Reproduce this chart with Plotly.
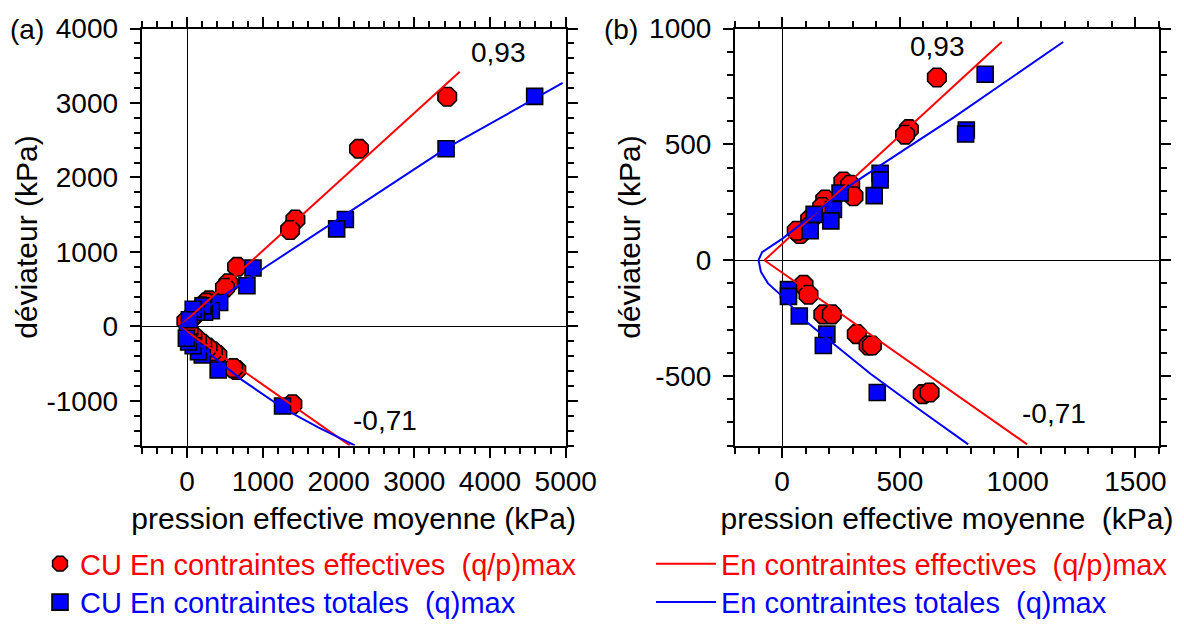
import plotly.graph_objects as go

# ---------------- data: panel (a) ----------------
a_eff_p = [3435, 2270, 1430, 1360, 660, 545, 500, 290, 250, 200, 150, 90, 40, -10,
           1390, 650, 610, 400, 340, 270, 200, 130, 70, 20]
a_eff_q = [3085, 2385, 1435, 1295, 800, 580, 520, 350, 320, 270, 210, 150, 100, 70,
           -1045, -585, -560, -385, -335, -285, -235, -175, -120, -60]
a_tot_p = [4590, 3420, 2090, 1975, 870, 790, 430, 320, 230, 210, 125, 80, 30,
           1260, 410, 200, 150, 80, 20, -10]
a_tot_q = [3090, 2385, 1435, 1310, 785, 545, 320, 210, 190, 275, 190, 230, 90,
           -1070, -585, -385, -340, -260, -210, -160]

a_line_eff_up_p = [-100, 3600]
a_line_eff_up_q = [0, 3420]
a_line_eff_dn_p = [-100, 2150]
a_line_eff_dn_q = [0, -1600]
a_line_tot_up_p = [-100, 1050, 3420, 4960]
a_line_tot_up_q = [0, 808, 2390, 3270]
a_line_tot_dn_p = [-100, 0, 300, 718, 1291, 1731, 2215]
a_line_tot_dn_q = [0, -95, -370, -715, -1113, -1355, -1599]

# ---------------- data: panel (b) ----------------
b_eff_p = [657, 538, 522, 260, 289, 303, 183, 170, 119, 112, 76, 62,
           91, 112, 175, 211, 317, 367, 381, 597, 626]
b_eff_q = [789, 566, 542, 340, 326, 276, 262, 230, 177, 141, 113, 127,
           -106, -149, -234, -234, -319, -368, -368, -578, -571]
b_tot_p = [862, 782, 779, 416, 416, 391, 246, 218, 207, 136, 119,
           27, 27, 73, 190, 175, 404]
b_tot_q = [803, 562, 545, 375, 347, 279, 290, 219, 170, 198, 127,
           -127, -156, -241, -319, -368, -571]

b_line_eff_up_p = [-75, 932]
b_line_eff_up_q = [0, 942]
b_line_eff_dn_p = [-75, 1040]
b_line_eff_dn_q = [0, -795]
b_line_tot_up_p = [-100, -85, 0, 133, 303, 516, 729, 1193]
b_line_tot_up_q = [0, 35, 92, 199, 333, 475, 617, 942]
b_line_tot_dn_p = [-100, -90, -60, 0, 90, 200, 375, 590, 790]
b_line_tot_dn_q = [0, -50, -100, -155, -255, -345, -490, -650, -795]

# ticks
a_xticks = [0, 1000, 2000, 3000, 4000, 5000]
a_yticks = [-1000, 0, 1000, 2000, 3000, 4000]
b_xticks = [0, 500, 1000, 1500]
b_yticks = [-500, 0, 500, 1000]

RED = "#ff0000"
BLUE = "#0000ff"
FONT = "Liberation Sans, Arial, sans-serif"

name_pts_eff = "CU En contraintes effectives\u00a0\u00a0(q/p)max"
name_pts_tot = "CU En contraintes totales\u00a0\u00a0(q)max"
name_ln_eff = "En contraintes effectives\u00a0\u00a0(q/p)max"
name_ln_tot = "En contraintes totales\u00a0\u00a0(q)max"

fig = go.Figure()

eff_marker = dict(symbol="octagon", size=20, color=RED, line=dict(color="black", width=1.6))
tot_marker = dict(symbol="square", size=16, color=BLUE, line=dict(color="black", width=1.6))

# markers panel (a)
fig.add_trace(go.Scatter(x=a_eff_p, y=a_eff_q, mode="markers", marker=eff_marker,
                         xaxis="x", yaxis="y", name=name_pts_eff, legend="legend"))
fig.add_trace(go.Scatter(x=a_tot_p, y=a_tot_q, mode="markers", marker=tot_marker,
                         xaxis="x", yaxis="y", name=name_pts_tot, legend="legend2"))
# markers panel (b)
fig.add_trace(go.Scatter(x=b_eff_p, y=b_eff_q, mode="markers", marker=eff_marker,
                         xaxis="x2", yaxis="y2", showlegend=False))
fig.add_trace(go.Scatter(x=b_tot_p, y=b_tot_q, mode="markers", marker=tot_marker,
                         xaxis="x2", yaxis="y2", showlegend=False))

def add_line(px, qy, color, xa, ya, name=None, legend=None):
    fig.add_trace(go.Scatter(x=px, y=qy, mode="lines", line=dict(color=color, width=2),
                             xaxis=xa, yaxis=ya, name=name,
                             showlegend=name is not None,
                             legend=legend if legend else "legend"))

add_line(a_line_eff_up_p, a_line_eff_up_q, RED, "x", "y", name_ln_eff, "legend3")
add_line(a_line_eff_dn_p, a_line_eff_dn_q, RED, "x", "y")
add_line(a_line_tot_up_p, a_line_tot_up_q, BLUE, "x", "y", name_ln_tot, "legend4")
add_line(a_line_tot_dn_p, a_line_tot_dn_q, BLUE, "x", "y")
add_line(b_line_eff_up_p, b_line_eff_up_q, RED, "x2", "y2")
add_line(b_line_eff_dn_p, b_line_eff_dn_q, RED, "x2", "y2")
add_line(b_line_tot_up_p, b_line_tot_up_q, BLUE, "x2", "y2")
add_line(b_line_tot_dn_p, b_line_tot_dn_q, BLUE, "x2", "y2")

W, H = 1184, 628
def px(x):
    return x / W
def py(y):
    return 1 - y / H

def axis_common(rng, tickvals, minor_dtick, domain, anchor, title, is_x):
    d = dict(
        range=rng, domain=domain, anchor=anchor,
        tickmode="array", tickvals=tickvals, ticktext=[str(v) for v in tickvals],
        ticks="outside", ticklen=10, tickwidth=1.5, tickcolor="black",
        minor=dict(tickmode="linear", tick0=0, dtick=minor_dtick, ticks="outside",
                   ticklen=6, tickwidth=1.5, tickcolor="black", showgrid=False),
        showline=True, linecolor="black", linewidth=2, mirror="allticks",
        showgrid=False, zeroline=True, zerolinecolor="black", zerolinewidth=1,
        tickfont=dict(family=FONT, size=28, color="black"),
        ticklabelstandoff=0 if is_x else 6,
        title=dict(text=title, font=dict(family=FONT, size=30, color="black"),
                   standoff=12 if is_x else 0),
        automargin=False, fixedrange=True,
    )
    return d

fig.update_layout(
    width=W, height=H,
    margin=dict(l=0, r=0, t=0, b=0),
    paper_bgcolor="white", plot_bgcolor="white",
    font=dict(family=FONT, color="black"),
    xaxis=axis_common([-600, 5000], a_xticks, 200, [px(141.7), px(565.7)], "y",
                      "pression effective moyenne (kPa)", True),
    yaxis=axis_common([-1600, 4000], a_yticks, 200, [py(452), py(29)], "x",
                      "déviateur (kPa)", False),
    xaxis2=axis_common([-200, 1600], b_xticks, 100, [px(735), px(1159)], "y2",
                       "pression effective moyenne\u00a0\u00a0(kPa)", True),
    yaxis2=axis_common([-800, 1000], b_yticks, 100, [py(452), py(29)], "x2",
                       "déviateur (kPa)", False),
    legend=dict(x=px(40), y=py(572), xanchor="left", yanchor="middle",
                font=dict(family=FONT, size=29, color=RED), bgcolor="rgba(0,0,0,0)"),
    legend2=dict(x=px(40), y=py(611), xanchor="left", yanchor="middle",
                 font=dict(family=FONT, size=29, color=BLUE), bgcolor="rgba(0,0,0,0)"),
    legend3=dict(x=px(651), y=py(572), xanchor="left", yanchor="middle", itemwidth=60,
                 font=dict(family=FONT, size=29, color=RED), bgcolor="rgba(0,0,0,0)"),
    legend4=dict(x=px(651), y=py(611), xanchor="left", yanchor="middle", itemwidth=60,
                 font=dict(family=FONT, size=29, color=BLUE), bgcolor="rgba(0,0,0,0)"),
    showlegend=True,
)

ann_font = dict(family=FONT, size=28, color="black")
def ann(text, x, y, xref, yref):
    fig.add_annotation(text=text, x=x, y=y, xref=xref, yref=yref, showarrow=False,
                       xanchor="center", yanchor="middle", font=ann_font)

ann("0,93", 4118, 3682, "x", "y")
ann("-0,71", 2610, -1258, "x", "y")
ann("0,93", 661, 924, "x2", "y2")
ann("-0,71", 1155, -662, "x2", "y2")
ann("(a)", px(26.5), py(30), "paper", "paper")
ann("(b)", px(621), py(30), "paper", "paper")

fig.write_html("out.html")
